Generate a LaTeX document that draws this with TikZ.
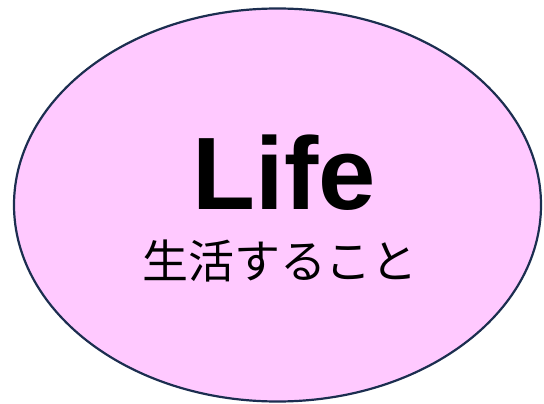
\documentclass[tikz,border=0pt]{standalone}
\usepackage{fontspec}
\setmainfont{Liberation Sans}
\newfontfamily\jpfont{Noto Sans CJK JP}
\definecolor{lifefill}{HTML}{FFC9FF}
\definecolor{lifeedge}{HTML}{1C2E50}
\begin{document}
\begin{tikzpicture}[x=1pt,y=-1pt,
  lifeoval/.style={draw=lifeedge, fill=lifefill, line width=2.2pt}]
\useasboundingbox (0,0) rectangle (544,404);
\draw[lifeoval] (277.5,205) ellipse [x radius=263.5, y radius=196.5];
\node[anchor=base, inner sep=0pt, font=\fontsize{103}{110}\selectfont\bfseries] (title) at (284.5,209) {Life};
\node[anchor=center, inner sep=0pt, font=\fontsize{46}{50}\selectfont\jpfont] (sub) at (280,261) {生活すること};
\end{tikzpicture}
\end{document}
